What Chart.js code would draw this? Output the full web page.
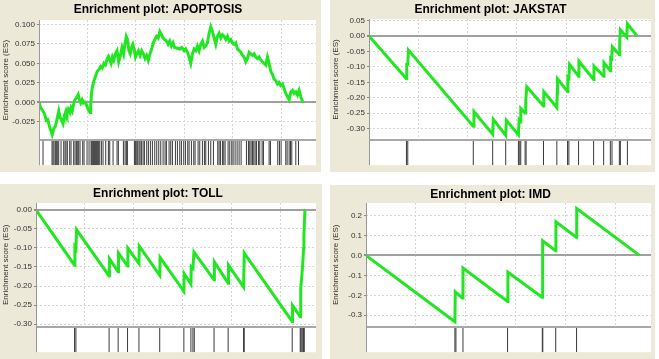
<!DOCTYPE html>
<html>
<head>
<meta charset="utf-8">
<script src="https://cdn.jsdelivr.net/npm/chart.js@4.4.0/dist/chart.umd.min.js"></script>
<style>
  body { margin: 0; background: #fff; width: 659px; height: 359px; position: relative; overflow: hidden; }
  canvas { position: absolute; background: #ece9d8; }
</style>
</head>
<body>
<canvas id="apoptosis" width="321" height="172" style="left:0;top:0"></canvas>
<canvas id="jakstat" width="325" height="172" style="left:330px;top:0"></canvas>
<canvas id="toll" width="322" height="175" style="left:0;top:184px"></canvas>
<canvas id="imd" width="325" height="174" style="left:330px;top:185px"></canvas>
<script>
// gene list rank axis, shared by all four plots
const rankMax = 28600;
const rankGrid = [5000, 10000, 15000, 20000, 25000];

// APOPTOSIS running enrichment score
const apoptosisRank = [0,170,408,578,748,918,1088,1258,1360,1530,
  1666,1802,1938,2040,2176,2346,2482,2618,2788,2890,
  3026,3196,3298,3434,3570,3706,3876,4046,4182,4318,
  4454,4590,4726,4896,5066,5270,5338,5406,5508,5678,
  5848,6018,6188,6358,6528,6698,6868,7038,7174,7310,
  7446,7582,7718,7888,8058,8228,8398,8568,8738,8874,
  9010,9146,9282,9418,9554,9690,9826,9962,10098,10268,
  10438,10608,10778,10948,11118,11288,11458,11628,11798,11968,
  12138,12308,12478,12648,12818,12988,13158,13328,13498,13668,
  13838,14008,
  14534,14741,14982,15154,15326,15498,15670,15843,16015,16187,
  16359,16531,16703,16875,17048,17220,17392,17564,17736,17908,
  18080,18253,18425,18597,18769,18941,19113,19286,19458,19630,
  19802,19974,20146,20318,20491,20663,20835,21007,21179,21351,
  21523,21696,21868,22040,22212,22384,22556,22728,22901,23073,
  23245,23417,23589,23761,23934,24106,24278,24450,24622,24794,
  24966,25139,25311,25483,25655,25827,25999,26171,26344,26516,
  26688,26860,27032,27204,27307];
const apoptosisES = [0,-0.0069,-0.0110,-0.0151,-0.0232,-0.0224,-0.0313,-0.0374,-0.0415,-0.0334,
  -0.0313,-0.0252,-0.0171,-0.0110,-0.0191,-0.0232,-0.0273,-0.0171,-0.0110,-0.0151,
  -0.0090,-0.0130,-0.0069,-0.0110,-0.0028,0.0033,0.0061,0.0102,0.0033,-0.0008,
  0.0033,-0.0008,0.0004,-0.0028,-0.0090,-0.0130,-0.0049,0.0094,0.0195,0.0277,
  0.0338,0.0399,0.0419,0.0460,0.0440,0.0501,0.0480,0.0562,0.0590,0.0541,
  0.0501,0.0582,0.0541,0.0623,0.0663,0.0521,0.0602,0.0704,0.0623,0.0745,
  0.0847,0.0806,0.0663,0.0623,0.0704,0.0745,0.0684,0.0582,0.0623,0.0663,
  0.0602,0.0663,0.0623,0.0562,0.0602,0.0541,0.0623,0.0684,0.0765,0.0806,
  0.0847,0.0826,0.0908,0.0867,0.0826,0.0806,0.0786,0.0745,0.0786,0.0724,
  0.0765,0.0704,
  0.0684,0.0704,0.0663,0.0684,0.0643,0.0582,0.0501,0.0623,0.0684,0.0663,
  0.0724,0.0663,0.0745,0.0786,0.0704,0.0724,0.0765,0.0887,0.0969,0.0908,
  0.0826,0.0745,0.0847,0.0887,0.0826,0.0867,0.0847,0.0806,0.0847,0.0786,
  0.0806,0.0765,0.0745,0.0765,0.0684,0.0663,0.0643,0.0602,0.0582,0.0521,
  0.0562,0.0643,0.0623,0.0602,0.0623,0.0582,0.0562,0.0582,0.0541,0.0521,
  0.0501,0.0480,0.0582,0.0501,0.0399,0.0358,0.0297,0.0277,0.0236,0.0256,
  0.0216,0.0236,0.0175,0.0114,0.0073,0.0033,0.0134,0.0155,0.0114,0.0134,
  0.0094,0.0155,0.0073,0.0012,0];
const apoptosisHits = [416,1345,1449,1552,1690,1793,1931,2034,2275,2551,2688,2792,2929,3170,3308,3583,3721,3859,3997,4100,
  4238,4513,4651,4961,5167,5374,5443,5546,5615,5718,5821,5925,6028,6131,6269,6441,6613,6889,7164,7302,
  7646,8059,8197,8714,8886,9023,9127,9850,9953,10091,10194,10331,10435,10573,10745,10883,11122,11296,11502,11709,
  11950,12157,12363,12570,12811,13017,13155,13430,13603,13775,14084,14291,14532,14704,14945,15117,15359,15496,15737,15978,
  16116,16426,16598,16873,17080,17217,17493,17734,18009,18457,18595,18733,18939,19077,19215,19525,19697,19903,20041,20248,
  20455,20661,20868,21419,21625,21762,21900,22038,22176,22314,22451,22658,22795,23036,23174,23759,23897,24654,24827,24999,
  25481,25619,25826,25964,26102,26515,26790];
const apoptosisTicks = [-0.025, 0, 0.025, 0.05, 0.075, 0.1];

// JAKSTAT
const jakstatRank = [0,3797,3831,3932,4000,10577,10645,12543,12611,13865,
  13933,15153,15221,15323,15391,15831,15899,16001,17696,17730,
  19052,19086,19120,20137,20171,20272,20340,21255,21289,22781,
  22815,23798,23832,24476,24510,24611,24679,25391,25425,25493,
  26137,26205,27188];
const jakstatES = [0,-0.1387,-0.0921,-0.0921,-0.0455,-0.2919,-0.2453,-0.3177,-0.2701,-0.3219,
  -0.2732,-0.3198,-0.2732,-0.2784,-0.2349,-0.2494,-0.2091,-0.1646,-0.2267,-0.1801,
  -0.2318,-0.1852,-0.1387,-0.1801,-0.1335,-0.1366,-0.0921,-0.1304,-0.0818,-0.1408,
  -0.0973,-0.1304,-0.0869,-0.1128,-0.0714,-0.0735,-0.0352,-0.0611,-0.0197,0.0197,
  -0.0041,0.0393,0];
const jakstatHits = [3797,3932,10577,12543,13865,15153,15289,15391,15831,15933,17696,19052,20137,20272,21255,22781,23798,24476,24645,25391,25493,26205];
const jakstatTicks = [-0.3, -0.25, -0.2, -0.15, -0.1, -0.05, 0, 0.05];

// TOLL
const tollRank = [0,3939,3973,4076,4144,7467,7501,8391,8426,9350,
  9385,10515,10549,12638,12673,15104,15139,15824,15858,16029,
  16132,18187,18222,19625,19660,21201,21270,26167,26201,26989,
  27023,27058,27160,27263,27332,27366,27469];
const tollES = [0,-0.1452,-0.0979,-0.1022,-0.0524,-0.1735,-0.1280,-0.1624,-0.1134,-0.1477,
  -0.1005,-0.1409,-0.0953,-0.1718,-0.1246,-0.2139,-0.1675,-0.1950,-0.1495,-0.1538,
  -0.1108,-0.1838,-0.1366,-0.1924,-0.1452,-0.2027,-0.1134,-0.2929,-0.2508,-0.2809,
  -0.2414,-0.2053,-0.1709,-0.1349,-0.1005,-0.0661,0];
const tollHits = [3939,4076,7467,8391,9350,10515,12638,15104,15824,16029,16166,18187,19625,21201,21270,26167,26989,27058,27160,27263,27332,27400];
const tollTicks = [-0.3, -0.25, -0.2, -0.15, -0.1, -0.05, 0];

// IMD
const imdRank = [0,8923,8956,9663,9731,14209,14242,17677,17711,17744,19024,19057,21111,21145,27441];
const imdES = [0,-0.3323,-0.1824,-0.2134,-0.0635,-0.2313,-0.0847,-0.2101,-0.0668,0.0733,0.0228,0.1678,0.0912,0.2346,0];
const imdHits = [8923,9024,9731,14209,17690,17744,19040,21130];
const imdTicks = [-0.3, -0.2, -0.1, 0, 0.1, 0.2];

const fontFamily = '"Liberation Sans", Arial, sans-serif';

// white plot background plus the grey left edge of the plot frame
const plotBg = {
  id: 'plotBg',
  beforeDraw(chart) {
    const a = chart.chartArea;
    const ctx = chart.ctx;
    ctx.save();
    ctx.fillStyle = '#fff';
    ctx.fillRect(a.left, a.top, a.right - a.left, a.bottom - a.top);
    ctx.restore();
  },
  afterDraw(chart) {
    const a = chart.chartArea;
    const ctx = chart.ctx;
    ctx.save();
    ctx.strokeStyle = '#999';
    ctx.lineWidth = 1;
    ctx.beginPath();
    ctx.moveTo(a.left + 0.5, a.top);
    ctx.lineTo(a.left + 0.5, a.bottom);
    ctx.stroke();
    ctx.restore();
  }
};

// box = [plot left, plot top, plot right, plot bottom] inside the canvas
function makePanel(id, title, rank, es, hits, ticks, decimals, yMin, yMax, box) {
  const canvas = document.getElementById(id);
  const curve = rank.map((r, i) => ({x: r, y: es[i]}));
  const hitLines = [];
  hits.forEach(r => hitLines.push({x: r, y: 0}, {x: r, y: 1}, {x: r, y: null}));
  const isZero = c => c.tick && c.tick.value === 0;

  new Chart(canvas, {
    type: 'line',
    data: {
      datasets: [
        {data: curve, yAxisID: 'y', borderColor: '#22e622', borderWidth: 3, pointRadius: 0, order: 1},
        {data: hitLines, yAxisID: 'yh', borderColor: '#3a3a3a', borderWidth: 1, pointRadius: 0, spanGaps: false, order: 2},
        {data: [{x: 0, y: 1}, {x: rankMax, y: 1}], yAxisID: 'yh', fill: 'start', backgroundColor: '#fff',
         borderWidth: 0, pointRadius: 0, order: 3}
      ]
    },
    options: {
      responsive: false,
      animation: false,
      devicePixelRatio: 1,
      layout: {padding: {left: 0, top: 0, right: canvas.width - box[2], bottom: canvas.height - box[3]}},
      plugins: {
        legend: {display: false},
        tooltip: {enabled: false},
        title: {
          display: true, text: title, color: '#000',
          font: {family: fontFamily, size: 12, weight: 'bold', lineHeight: 1.2},
          padding: {top: 2, bottom: box[1] - 2 - 14.4}
        }
      },
      scales: {
        x: {
          type: 'linear', min: 0, max: rankMax,
          afterBuildTicks: s => { s.ticks = rankGrid.map(v => ({value: v})); },
          ticks: {display: false},
          grid: {color: '#d6d6d6', drawTicks: false},
          border: {display: false, dash: [2, 2]}
        },
        // hit strip first so that it ends up below the score axis in the stack
        yh: {
          type: 'linear', position: 'left', stack: 'plot', stackWeight: 26,
          min: 0, max: 1,
          afterBuildTicks: s => { s.ticks = [{value: 1}]; },
          afterFit: s => { s.width = box[0]; },
          ticks: {display: false},
          grid: {color: '#a8a8a8', lineWidth: 2, drawTicks: false, z: 1},
          border: {display: false}
        },
        y: {
          type: 'linear', position: 'left', stack: 'plot', stackWeight: 126,
          min: yMin, max: yMax,
          afterBuildTicks: s => { s.ticks = ticks.map(v => ({value: v})); },
          afterFit: s => { s.width = box[0]; },
          ticks: {font: {family: fontFamily, size: 8}, color: '#333', padding: 2, autoSkip: false,
                  callback: v => v.toFixed(decimals)},
          grid: {color: c => isZero(c) ? '#a0a0a0' : '#d6d6d6', lineWidth: c => isZero(c) ? 2 : 1,
                 tickLength: 2, tickColor: '#888'},
          border: {display: false, dash: c => isZero(c) ? [] : [2, 2]},
          title: {display: true, text: 'Enrichment score (ES)', color: '#333',
                  font: {family: fontFamily, size: 8}, padding: {top: 1, bottom: 0}}
        }
      }
    },
    plugins: [plotBg]
  });
}

makePanel('apoptosis', 'Enrichment plot: APOPTOSIS', apoptosisRank, apoptosisES, apoptosisHits,
  apoptosisTicks, 3, -0.0488, 0.1057, [39, 20, 316, 172]);
makePanel('jakstat', 'Enrichment plot: JAKSTAT', jakstatRank, jakstatES, jakstatHits,
  jakstatTicks, 2, -0.3374, 0.0549, [39, 19, 321, 172]);
makePanel('toll', 'Enrichment plot: TOLL', tollRank, tollES, tollHits,
  tollTicks, 2, -0.3067, 0.018, [36, 19, 316, 171]);
makePanel('imd', 'Enrichment plot: IMD', imdRank, imdES, imdHits,
  imdTicks, 1, -0.357, 0.262, [36, 18, 321, 170]);
</script>
</body>
</html>
